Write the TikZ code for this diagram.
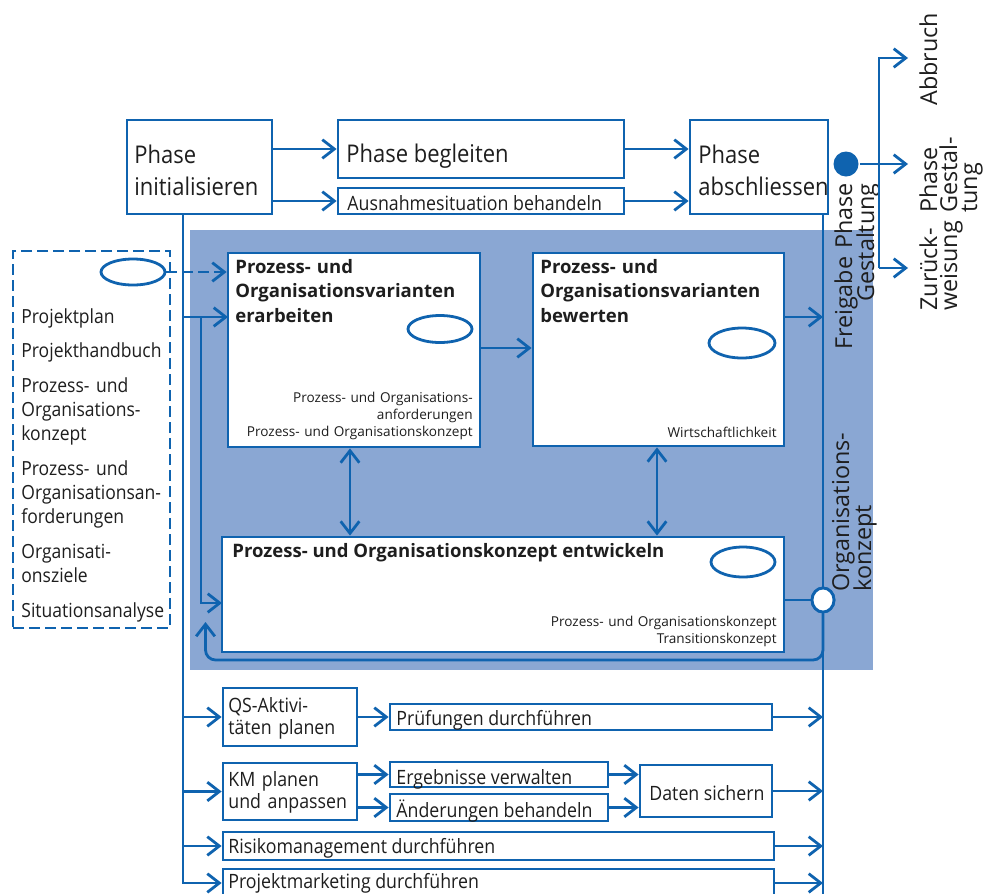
\documentclass[tikz,border=0pt]{standalone}
\usepackage{fontspec}
\setmainfont{Open Sans}
\newfontfamily\narrowfont{Open Sans}[FakeStretch=0.9]
\usetikzlibrary{arrows.meta,shapes.geometric}
\definecolor{lc}{HTML}{0F63AF}
\definecolor{bg}{HTML}{8AA7D3}
\definecolor{tc}{HTML}{1E1E1E}
\newcommand\tightlead{\lineskiplimit=-20pt\relax}
\tikzset{
  box/.style 2 args={draw=lc, fill=white, inner sep=0pt,
    minimum width=#1*0.75pt, minimum height=#2*0.75pt},
  ell/.style 2 args={ellipse, draw=lc, fill=white, inner sep=0pt,
    minimum width=#1*0.75pt, minimum height=#2*0.75pt},
  conn/.style={draw=lc, ->},
  dbl/.style={draw=lc, <->},
  plain/.style={draw=lc},
  dashy/.style={dash pattern=on 8pt off 4pt},
  big/.style={font=\narrowfont\fontsize{18.3}{24}\selectfont, text=tc, inner sep=0pt, align=left},
  mid/.style={font=\narrowfont\fontsize{14.8}{16.5}\selectfont, text=tc, inner sep=0pt, align=left},
  lst/.style={font=\narrowfont\fontsize{14.6}{18}\selectfont, text=tc, inner sep=0pt, align=left,
    text width=150*0.75pt, anchor=base west},
  ttl/.style={font=\bfseries\fontsize{13.9}{18.4}\selectfont, text=tc, inner sep=0pt, align=left},
  sml/.style={font=\fontsize{10.2}{13.1}\selectfont, text=tc, inner sep=0pt},
  rot/.style={font=\fontsize{17.5}{15}\selectfont\tightlead, text=tc, inner sep=0pt, rotate=90},
  rotb/.style={font=\fontsize{17.5}{16.5}\selectfont\tightlead, text=tc, inner sep=0pt, rotate=90},
}
\begin{document}
\begin{tikzpicture}[x=0.75pt, y=-0.75pt, line width=2.1pt,
  >={Straight Barb[length=9pt,width=14pt]}]
\useasboundingbox (0,0) rectangle (984,893);
\fill[white] (0,0) rectangle (984,893);

% shaded work area of the phase
\fill[bg] (190,230) rectangle (873,670);

% bus lines and junctions
\coordinate (Lx) at (183,0);
\coordinate (Rx) at (823,0);
\coordinate (Ix) at (201,0);
\coordinate (Fx) at (205.5,0);
\coordinate (Bx) at (879,0);
\coordinate (d1) at (350,0);
\coordinate (d2) at (657,0);

% top row
\node[box={145}{94}] (PI) at (199.5,167) {};
\node[box={286}{58}] (PB) at (481,149) {};
\node[box={286}{26}] (AU) at (481,201) {};
\node[box={138}{94}] (PA) at (759,167) {};
\node[big, text width=140*0.75pt, anchor=base west] (PIt) at (133,163) {Phase\\initialisieren};
\node[big, anchor=base west] (PBt) at (345,162) {Phase begleiten};
\node[mid, anchor=base west] (AUt) at (346,210) {Ausnahmesituation behandeln};
\node[big, text width=135*0.75pt, anchor=base west] (PAt) at (697,163) {Phase\\abschliessen};

% input documents
\node[draw=lc, dashy, inner sep=0pt, minimum width=157*0.75pt, minimum height=377*0.75pt] (D) at (91.5,439.5) {};
\node[ell={64}{26}] (E0) at (133,272) {};
\node[lst] (i1) at (20,323) {Projektplan};
\node[lst] (i2) at (20,357) {Projekthandbuch};
\node[lst] (i3) at (20,392) {Prozess- und\\Organisations-\\konzept};
\node[lst] (i4) at (20,475) {Prozess- und\\Organisationsan-\\forderungen};
\node[lst] (i5) at (20,558) {Organisati-\\onsziele};
\node[lst] (i6) at (20,617) {Situationsanalyse};

% main activities
\node[box={252}{194}] (A) at (354,350) {};
\node[box={251}{193}] (B) at (658.5,349.5) {};
\node[box={562}{115}] (C) at (503,594.5) {};
\node[ttl, text width=245*0.75pt, anchor=base west] (At) at (234,273) {Prozess- und\\Organisationsvarianten\\erarbeiten};
\node[ttl, text width=245*0.75pt, anchor=base west] (Bt) at (539,273) {Prozess- und\\Organisationsvarianten\\bewerten};
\node[ttl, anchor=base west] (Ct) at (231,557) {Prozess- und Organisationskonzept entwickeln};
\node[sml, text width=240*0.75pt, align=right, anchor=base east] (As) at (474,402) {Prozess- und Organisations-\\anforderungen\\Prozess- und Organisationskonzept};
\node[sml, anchor=base east] (Bs) at (778,437) {Wirtschaftlichkeit};
\node[sml, text width=240*0.75pt, align=right, anchor=base east] (Cs) at (778,626) {Prozess- und Organisationskonzept\\Transitionskonzept};
\node[ell={64}{27}] (EA) at (440,329) {};
\node[ell={66}{30}] (EB) at (742,343) {};
\node[ell={64}{30}] (EC) at (743,562) {};

% supporting activities
\node[box={134}{58}] (QS) at (290,717) {};
\node[box={382}{26}] (PR) at (581,717) {};
\node[box={134}{57}] (KM) at (290,791.5) {};
\node[box={218}{25}] (ER) at (499,774.5) {};
\node[box={218}{27}] (AE) at (499,807.5) {};
\node[box={132}{52}] (DS) at (706,791) {};
\node[box={551}{28}] (RI) at (498.5,846) {};
\node[box={551}{28}] (PM) at (498.5,883) {};
\node[mid, text width=130*0.75pt, anchor=base west] (QSt) at (227,712) {QS-Aktivi-\\täten planen};
\node[mid, anchor=base west] (PRt) at (395,725) {Prüfungen durchführen};
\node[mid, text width=130*0.75pt, anchor=base west] (KMt) at (227,786) {KM planen\\und anpassen};
\node[mid, anchor=base west] (ERt) at (395,784) {Ergebnisse verwalten};
\node[mid, anchor=base west] (AEt) at (395,817) {Änderungen behandeln};
\node[mid, anchor=base west] (DSt) at (648,800) {Daten sichern};
\node[mid, anchor=base west] (RIt) at (227,853) {Risikomanagement durchführen};
\node[mid, anchor=base west] (PMt) at (227,888) {Projektmarketing durchführen};

% decision outcomes
\coordinate (toAb) at (908,58);
\coordinate (toPG) at (908,164);
\coordinate (toZW) at (908,268);
\node[rot, anchor=base west] (Ab) at (937,107) {Abbruch};
\node[rot, text width=120*0.75pt, align=left, anchor=base west] (PG) at (937,214) {Phase\\Gestal-\\tung};
\node[rot, text width=120*0.75pt, align=left, anchor=base west] (ZW) at (937,312) {Zurück-\\weisung};
\node[rotb, text width=180*0.75pt, align=right, anchor=base east] (FG) at (852,182) {Freigabe Phase\\Gestaltung};
\node[rotb, text width=180*0.75pt, align=left, anchor=base west] (OK) at (849,593) {Organisations-\\konzept};

% top connectors
\draw[conn] (PI.east |- PB.west) -- (PB.west);
\draw[conn] (PI.east |- AU.west) -- (AU.west);
\draw[conn] (PB.east) -- (PA.west |- PB.east);
\draw[conn] (AU.east) -- (PA.west |- AU.east);

% left bus
\coordinate (inA) at (228,317);
\coordinate (inC) at (222,603);
\draw[conn] (PI.south -| Lx) -- (Lx |- PM.west) -- (PM.west);
\draw[conn] (Lx |- inA) -- (inA);
\draw[conn] (Ix |- inA) -- (Ix |- inC) -- (inC);
\draw[conn, dashy] (E0.east) -- (A.west |- E0.east);
\draw[conn] (Lx |- QS.west) -- (QS.west);
\draw[conn] (Lx |- KM.west) -- (KM.west);
\draw[conn] (Lx |- RI.west) -- (RI.west);

% inner flow
\draw[conn] (A.east |- 0,348) -- (B.west |- 0,348);
\draw[dbl] (d1 |- A.south) -- (d1 |- C.north);
\draw[dbl] (d2 |- B.south) -- (d2 |- C.north);

% right bus
\draw[plain] (PA.south -| Rx) -- (Rx |- 0,900);
\draw[conn] (B.east |- 0,317) -- (Rx |- 0,317);
\node[ell={22}{24}] (OC) at (823,600) {};
\draw[plain] (C.east |- OC) -- (OC.west);
\draw[conn, rounded corners=10*0.75pt] (OC.south) -- (Rx |- 0,660) -- (Fx |- 0,660) -- (Fx |- 0,622);
\node[ell={22}{24}] (OC2) at (OC) {};
\draw[conn] (QS.east |- PR.west) -- (PR.west);
\draw[conn] (KM.east |- ER.west) -- (ER.west);
\draw[conn] (KM.east |- AE.west) -- (AE.west);
\draw[conn] (ER.east) -- (DS.west |- ER.east);
\draw[conn] (AE.east) -- (DS.west |- AE.east);
\draw[conn] (PR.east) -- (Rx |- PR.east);
\draw[conn] (DS.east) -- (Rx |- DS.east);
\draw[conn] (RI.east) -- (Rx |- RI.east);
\draw[conn] (PM.east) -- (Rx |- PM.east);

% decision point
\node[circle, fill=lc, inner sep=0pt, minimum size=25*0.75pt] (FC) at (846,164) {};
\draw[conn] (FC.east) -- (toPG);
\draw[conn] (Bx |- toZW) -- (Bx |- toAb) -- (toAb);
\draw[conn] (Bx |- toZW) -- (toZW);
\end{tikzpicture}
\end{document}
